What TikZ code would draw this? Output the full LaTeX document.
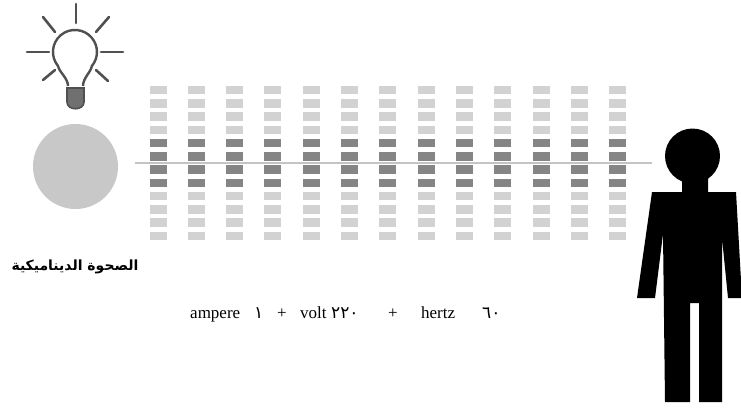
\documentclass[tikz,border=0pt]{standalone}
\usepackage{fontspec}
\setmainfont{Liberation Serif}
\newfontfamily\arabicfont[Script=Arabic]{DejaVu Sans}
\newfontfamily\digitfont{DejaVu Sans}
\TeXXeTstate=1

\definecolor{barlight}{HTML}{D2D2D2}
\definecolor{bardark}{HTML}{858585}
\definecolor{beam}{HTML}{C4C4C4}
\definecolor{discgray}{HTML}{C8C8C8}
\definecolor{bulbline}{HTML}{505050}
\definecolor{bulbbase}{HTML}{707070}

% fixed-width slot for one piece of the supply line
\newcommand{\slot}[2]{\makebox[#1pt][l]{#2}}

\begin{document}
\begin{tikzpicture}[
    x=1pt, y=-1pt,
    bar/.style={rectangle, minimum width=17pt, minimum height=8.5pt, inner sep=0pt, fill=barlight},
    hotbar/.style={bar, fill=bardark},
    ray/.style={draw=bulbline, line width=2.6pt, line cap=round},
    supplytext/.style={inner sep=0pt, font=\fontsize{17}{17}\selectfont}
]
    \useasboundingbox [fill=white] (0,0) rectangle (741,407);

    % Beam from the disc to the person
    \coordinate (beamL) at (135,163);
    \coordinate (beamR) at (652,163);
    \draw [beam, line width=2pt] (beamL) -- (beamR);

    % Columns of bars, the middle four rows dark
    \foreach \i in {1,...,13} {
        \foreach \j/\kind in {1/bar,2/bar,3/bar,4/bar,5/hotbar,6/hotbar,7/hotbar,8/hotbar,9/bar,10/bar,11/bar,12/bar} {
            \node [\kind] (b\i-\j) at ({158+38.3*(\i-1)},{90+13.27*(\j-1)}) {};
        }
    }

    % Light bulb
    \foreach \ax/\ay/\bx/\by in {76/4/76/23, 43/17/55/32, 109/17/96/32, 27/52/49/52, 101/52/123/52, 43/80/55/70, 108/81/96/70} {
        \draw [ray] (\ax,\ay) -- (\bx,\by);
    }
    \draw [bulbline, line width=2.4pt, fill=white] (68,86) .. controls (68,78) and (59,72) .. (58.1,66.1)
        arc [start angle=140, end angle=400, radius=22] .. controls (91,72) and (83,78) .. (83,86);
    \draw [bulbline, line width=1.6pt, fill=bulbbase] (67,88) -- (84,88) -- (84,102) .. controls (84,111) and (67,111) .. (67,102) -- cycle;

    % Gray disc and its caption
    \node [circle, fill=discgray, minimum size=85pt, inner sep=0pt] (disc) at (75.5,166.5) {};
    \node [font=\arabicfont\bfseries\fontsize{14}{16}\selectfont] (caption) at (75,267) {\beginR الصحوة الديناميكية\endR};

    % Person
    \node [circle, fill=black, minimum size=55pt, inner sep=0pt] (head) at (692.5,156) {};
    \fill (682,178) -- (682,192) -- (652,192) -- (637,298) -- (655,298) -- (663,234) -- (665,402) -- (690,402)
        -- (690,303) -- (699,303) -- (699,402) -- (722,402) -- (722,238) -- (728,298) -- (742,298) -- (736,192)
        -- (708,192) -- (708,178) -- cycle;

    % Supply values
    \node [supplytext, anchor=base west] (supply) at (190,318)
        {\slot{64}{ampere}\slot{23}{\digitfont ١}\slot{23}{+}\slot{31}{volt}%
         \slot{57}{\digitfont ٢٢٠}\slot{33}{+}\slot{61}{hertz}{\digitfont ٦٠}};
\end{tikzpicture}
\end{document}
